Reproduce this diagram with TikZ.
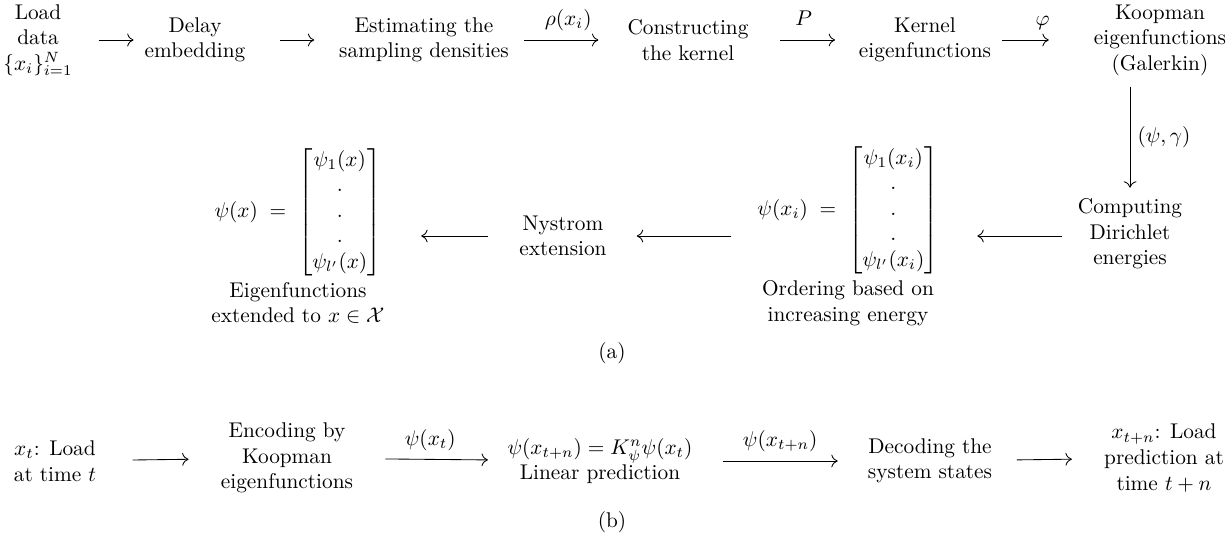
\documentclass[tikz,border=0pt]{standalone}
\usepackage{amsmath,amssymb}
\usepackage{tikz}
\usetikzlibrary{positioning,arrows.meta,calc}
\tikzset{
  stage/.style={align=center, inner sep=2pt},
  flow/.style={-{To[length=3pt,width=6pt]}, shorten <=3pt, shorten >=3pt},
  lab/.style={above=2pt, text depth=2.5pt, inner sep=2pt},
  tag/.style={inner sep=2pt}
}

\begin{document}
\begin{tikzpicture}[x=0.4695pt, y=-0.4695pt]
  \useasboundingbox (0,0) rectangle (1226,540);
  % (a) learning the eigenfunctions
  \node[stage] (load) at (38,40) {Load\\data\\$\{x_i\}_{i=1}^N$};
  \node[stage] (delay) at (195,40) {Delay\\embedding};
  \node[stage] (est) at (424,40) {Estimating the\\sampling densities};
  \node[stage] (constr) at (688,40) {Constructing\\the kernel};
  \node[stage] (kern) at (925,40) {Kernel\\eigenfunctions};
  \node[stage] (koop) at (1160,40) {Koopman\\eigenfunctions\\(Galerkin)};
  \node[stage] (comp) at (1130,234) {Computing\\Dirichlet\\energies};
  \node[stage] (ord) at (848,236) {$\psi(x_i)\;=\;\begin{bmatrix}\psi_1(x_i)\\ .\\ .\\ .\\ \psi_{l'}(x_i)\end{bmatrix}$\\[2pt]Ordering based on\\increasing energy};
  \node[stage] (nys) at (563,236) {Nystrom\\extension};
  \node[stage] (eig) at (298,236) {$\psi(x)\;=\;\begin{bmatrix}\psi_1(x)\\ .\\ .\\ .\\ \psi_{l'}(x)\end{bmatrix}$\\[2pt]Eigenfunctions\\extended to $x\in\mathcal{X}$};
  \node[tag] (capa) at (612,353) {(a)};

  \draw[flow, shorten <=10pt] (load) -- (delay);
  \draw[flow, shorten <=14pt, shorten >=9.5pt] (delay) -- (est);
  \draw[flow, shorten <=5pt, shorten >=11.5pt] (est) -- node[lab] {$\rho(x_i)$} (constr);
  \draw[flow, shorten <=12.5pt, shorten >=9pt] (constr) -- node[lab] {$P$} (kern);
  \draw[flow, shorten >=19pt] (kern) -- node[lab] {$\varphi$} (koop);
  \draw[flow] (koop.south -| comp) -- node[right] {$(\psi,\gamma)$} (comp);
  \draw[flow, shorten <=5.5pt, shorten >=16pt] (comp.west |- ord) -- (ord);
  \draw[flow, shorten <=10pt, shorten >=12pt] (ord) -- (nys);
  \draw[flow, shorten <=12.5pt, shorten >=15pt] (nys) -- (eig);

  % (b) prediction
  \node[stage] (xt) at (55,461) {$x_t$: Load\\at time $t$};
  \node[stage] (enc) at (287,458) {Encoding by\\Koopman\\eigenfunctions};
  \node[stage] (lin) at (600,461) {$\psi(x_{t+n})=K_\psi^n\psi(x_t)$\\Linear prediction};
  \node[stage] (dec) at (930,461) {Decoding the\\system states};
  \node[stage] (pred) at (1164,458) {$x_{t+n}$: Load\\prediction at\\time $t+n$};
  \node[tag] (capb) at (612,522) {(b)};

  \draw[flow, shorten <=15pt, shorten >=13pt] (xt) -- (enc);
  \draw[flow, shorten <=13pt, shorten >=7pt] (enc) -- node[lab] {$\psi(x_t)$} (lin);
  \draw[flow, shorten <=12pt, shorten >=12pt] (lin) -- node[lab] {$\psi(x_{t+n})$} (dec);
  \draw[flow, shorten <=9.5pt, shorten >=13pt] (dec) -- (pred);
\end{tikzpicture}
\end{document}
